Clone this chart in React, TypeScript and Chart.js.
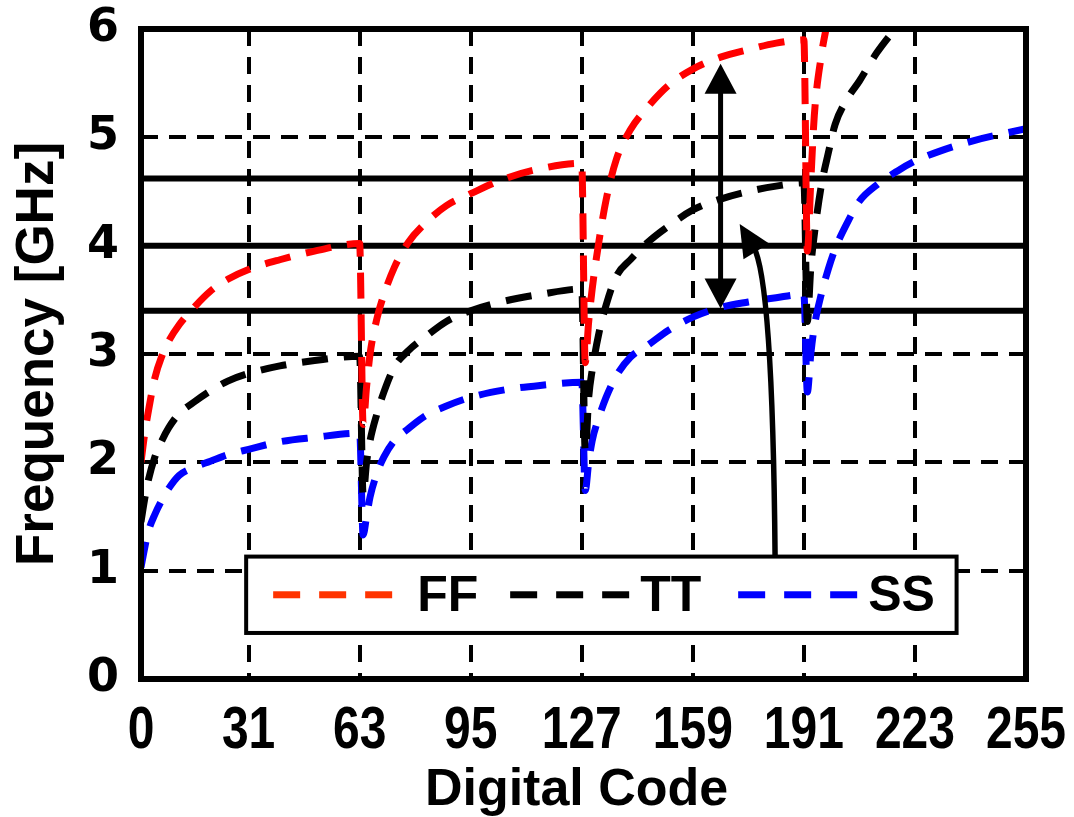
import React, { useEffect, useRef } from 'react';
import { Chart, registerables } from 'chart.js';

Chart.register(...registerables);

// Digital code samples (shared by all three corners)
const CODES = [
  0, 1, 2, 4, 6, 8, 11, 15, 20, 25, 31, 40, 50, 63,
  64, 65, 66, 68, 70, 73, 77, 82, 88, 95, 105, 115, 127,
  128, 129, 130, 132, 134, 137, 141, 146, 152, 159, 167, 175, 183, 191,
  192, 193, 194, 196, 198, 200, 203, 207, 212, 218, 223, 230, 240, 255,
];

// Frequency [GHz] per corner
const FF = [
  2.0, 2.25, 2.45, 2.78, 2.98, 3.12, 3.27, 3.42, 3.58, 3.69, 3.78, 3.87, 3.95, 4.02,
  2.35, 2.7, 3.0, 3.33, 3.55, 3.8, 4.03, 4.21, 4.37, 4.48, 4.62, 4.71, 4.76,
  2.92, 3.3, 3.6, 4.05, 4.42, 4.8, 5.07, 5.28, 5.48, 5.63, 5.74, 5.81, 5.87, 5.9,
  3.95, 4.6, 5.2, 5.75, 6.1, null, null, null, null, null, null, null, null, null,
];
const TT = [
  1.45, 1.65, 1.82, 2.05, 2.2, 2.32, 2.45, 2.55, 2.66, 2.75, 2.82, 2.89, 2.94, 2.98,
  1.7, 2.0, 2.2, 2.45, 2.65, 2.88, 3.03, 3.16, 3.3, 3.4, 3.49, 3.55, 3.6,
  2.1, 2.6, 2.85, 3.2, 3.45, 3.72, 3.87, 4.03, 4.18, 4.33, 4.43, 4.5, 4.55, 4.58,
  3.3, 3.8, 4.1, 4.55, 4.85, 5.12, 5.33, 5.52, 5.78, 6.03, null, null, null, null,
];
const SS = [
  1.03, 1.2, 1.35, 1.52, 1.65, 1.76, 1.88, 1.95, 2.01, 2.07, 2.12, 2.19, 2.23, 2.27,
  1.33, 1.5, 1.68, 1.9, 2.05, 2.2, 2.31, 2.43, 2.52, 2.6, 2.67, 2.71, 2.74,
  1.74, 2.0, 2.2, 2.42, 2.6, 2.8, 2.97, 3.08, 3.22, 3.34, 3.43, 3.48, 3.52, 3.55,
  2.65, 3.0, 3.25, 3.55, 3.78, 3.97, 4.18, 4.41, 4.56, 4.69, 4.78, 4.87, 4.97, 5.08,
];

const SERIES_NAMES = ['FF', 'TT', 'SS'];
const SERIES_COLORS = ['#ff0000', '#000000', '#0000ff'];
const LEGEND_COLORS = ['#ff3300', '#000000', '#0000ff'];

const X_TICKS = [0, 31, 63, 95, 127, 159, 191, 223, 255];
const Y_TICKS = [0, 1, 2, 3, 4, 5, 6];
const REF_LEVELS = [3.4, 4.0, 4.62];
const X_TITLE = 'Digital Code';
const Y_TITLE = 'Frequency [GHz]';

// annotation anchors in data units (code, GHz)
const DOUBLE_ARROW = { code: 167, from: 3.42, to: 5.68 };
const CURVED_ARROW = { start: [182.7, 1.13], ctrl: [182, 3.7], tip: [172.5, 4.2] };
const LEGEND_BOX = { x0: 30.3, x1: 235, y0: 0.425, y1: 1.13 };

const BOLD = '"Liberation Sans", Arial, sans-serif';

function arrowHead(ctx: CanvasRenderingContext2D, tx: number, ty: number, dx: number, dy: number, len: number, half: number) {
  const n = Math.hypot(dx, dy);
  const ux = dx / n, uy = dy / n;
  const bx = tx - ux * len, by = ty - uy * len;
  ctx.beginPath();
  ctx.moveTo(tx, ty);
  ctx.lineTo(bx - uy * half, by + ux * half);
  ctx.lineTo(bx + uy * half, by - ux * half);
  ctx.closePath();
  ctx.fill();
}

const zeroPad = (s: any) => {
  s.paddingTop = 0;
  s.paddingBottom = 0;
  s.paddingLeft = 0;
  s.paddingRight = 0;
};

const decorPlugin = {
  id: 'decor',
  beforeDatasetsDraw(chart: any) {
    const { ctx, chartArea: a, scales } = chart;
    const y = scales.y;
    ctx.save();
    ctx.strokeStyle = '#000';
    ctx.lineWidth = 6;
    ctx.setLineDash([]);
    for (const v of REF_LEVELS) {
      const py = y.getPixelForValue(v);
      ctx.beginPath();
      ctx.moveTo(a.left, py);
      ctx.lineTo(a.right, py);
      ctx.stroke();
    }
    ctx.restore();
  },
  afterDatasetsDraw(chart: any) {
    const { ctx, chartArea: a, scales } = chart;
    const x = scales.x, y = scales.y;
    ctx.save();
    ctx.setLineDash([]);
    ctx.strokeStyle = '#000';
    ctx.fillStyle = '#000';

    // double arrow
    const ax = x.getPixelForValue(DOUBLE_ARROW.code);
    const ay0 = y.getPixelForValue(DOUBLE_ARROW.from);
    const ay1 = y.getPixelForValue(DOUBLE_ARROW.to);
    const headLen = 30, headHalf = 16;
    ctx.lineWidth = 5;
    ctx.beginPath();
    ctx.moveTo(ax, ay0 - headLen + 2);
    ctx.lineTo(ax, ay1 + headLen - 2);
    ctx.stroke();
    arrowHead(ctx, ax, ay1, 0, -1, headLen, headHalf);
    arrowHead(ctx, ax, ay0, 0, 1, headLen, headHalf);

    // curved arrow
    const sx = x.getPixelForValue(CURVED_ARROW.start[0]);
    const sy = y.getPixelForValue(CURVED_ARROW.start[1]);
    const cx = x.getPixelForValue(CURVED_ARROW.ctrl[0]);
    const cy = y.getPixelForValue(CURVED_ARROW.ctrl[1]);
    const tx = x.getPixelForValue(CURVED_ARROW.tip[0]);
    const ty = y.getPixelForValue(CURVED_ARROW.tip[1]);
    const dx = tx - cx, dy = ty - cy;
    const n = Math.hypot(dx, dy);
    const ex = tx - (dx / n) * 26, ey = ty - (dy / n) * 26;
    ctx.lineWidth = 5.5;
    ctx.beginPath();
    ctx.moveTo(sx, sy);
    ctx.quadraticCurveTo(cx, cy, ex, ey);
    ctx.stroke();
    arrowHead(ctx, tx, ty, dx, dy, 32, 15);

    // legend
    const lx0 = x.getPixelForValue(LEGEND_BOX.x0);
    const lx1 = x.getPixelForValue(LEGEND_BOX.x1);
    const ly0 = y.getPixelForValue(LEGEND_BOX.y1);
    const ly1 = y.getPixelForValue(LEGEND_BOX.y0);
    ctx.fillStyle = '#fff';
    ctx.fillRect(lx0, ly0, lx1 - lx0, ly1 - ly0);
    ctx.lineWidth = 4;
    ctx.strokeStyle = '#000';
    ctx.strokeRect(lx0, ly0, lx1 - lx0, ly1 - ly0);
    const midY = (ly0 + ly1) / 2;
    const sampleStarts = [27, 264, 492];
    const textStarts = [171, 394, 622];
    ctx.font = `bold 50px ${BOLD}`;
    ctx.textBaseline = 'middle';
    ctx.textAlign = 'left';
    SERIES_NAMES.forEach((name, i) => {
      ctx.fillStyle = LEGEND_COLORS[i];
      for (let k = 0; k < 3; k++) {
        ctx.fillRect(lx0 + sampleStarts[i] + k * 46, midY - 3.5, 27, 7);
      }
      ctx.fillStyle = '#000';
      ctx.fillText(name, lx0 + textStarts[i], midY + 2);
    });

    // frame
    ctx.lineWidth = 6;
    ctx.strokeStyle = '#000';
    ctx.strokeRect(a.left, a.top, a.right - a.left, a.bottom - a.top);
    ctx.restore();
  },
  afterDraw(chart: any) {
    // condensed x tick labels, placed through the x scale
    const { ctx, chartArea: a, scales } = chart;
    const x = scales.x;
    ctx.save();
    ctx.fillStyle = '#000';
    ctx.font = `bold 60px ${BOLD}`;
    ctx.textAlign = 'center';
    ctx.textBaseline = 'alphabetic';
    for (const v of X_TICKS) {
      const px = x.getPixelForValue(v);
      ctx.save();
      ctx.translate(px, a.bottom + 69);
      ctx.scale(0.8, 1);
      ctx.fillText(String(v), 0, 0);
      ctx.restore();
    }
    // x axis title
    ctx.font = `bold 52px ${BOLD}`;
    ctx.fillText(X_TITLE, x.getPixelForValue(125.5), a.bottom + 126);
    ctx.restore();
  },
};

export default function App() {
  const ref = useRef<HTMLCanvasElement | null>(null);
  useEffect(() => {
    if (!ref.current) return;
    const series = [FF, TT, SS];
    const chart = new Chart(ref.current, {
      type: 'line',
      data: {
        datasets: series.map((vals, i) => ({
          label: SERIES_NAMES[i],
          data: CODES.map((c, j) => ({ x: c, y: vals[j] })),
          borderColor: SERIES_COLORS[i],
          borderWidth: 7,
          borderDash: [26, 16],
          borderCapStyle: 'butt',
          pointRadius: 0,
          fill: false,
          cubicInterpolationMode: 'monotone',
          spanGaps: false,
        })),
      },
      options: {
        responsive: false,
        animation: false,
        devicePixelRatio: 1,
        layout: { padding: { top: 29, right: 48, left: 0, bottom: 0 } },
        plugins: { legend: { display: false }, tooltip: { enabled: false } },
        scales: {
          x: {
            type: 'linear',
            min: 0,
            max: 255,
            afterBuildTicks: (s: any) => { s.ticks = X_TICKS.map((v) => ({ value: v })); },
            afterFit: (s: any) => { s.height = 138; zeroPad(s); },
            grid: {
              color: (c: any) => (c.tick && (c.tick.value === 0 || c.tick.value === 255) ? 'rgba(0,0,0,0)' : '#000'),
              lineWidth: 4,
              drawTicks: false,
            },
            border: { display: false, dash: [17, 11] },
            ticks: { display: false, autoSkip: false, maxRotation: 0 },
            title: { display: false },
          },
          y: {
            type: 'linear',
            min: 0,
            max: 6,
            afterBuildTicks: (s: any) => { s.ticks = Y_TICKS.map((v) => ({ value: v })); },
            afterFit: (s: any) => { s.width = 141; zeroPad(s); },
            grid: {
              color: (c: any) => (c.tick && (c.tick.value === 0 || c.tick.value === 6) ? 'rgba(0,0,0,0)' : '#000'),
              lineWidth: 4,
              drawTicks: false,
            },
            border: { display: false, dash: [17, 11] },
            ticks: {
              padding: 22,
              color: '#000',
              font: { family: '"DejaVu Sans", sans-serif', size: 46, weight: 'bold' },
              callback: (v: any) => String(v),
            },
            title: {
              display: true,
              text: Y_TITLE,
              color: '#000',
              font: { family: BOLD, size: 53, weight: 'bold' },
              padding: { top: 7, bottom: 0 },
            },
          },
        },
      },
      plugins: [decorPlugin],
    } as any);
    return () => chart.destroy();
  }, []);
  return (
    <div style={{ position: 'fixed', left: 0, top: 0, width: 1074, height: 817, background: '#fff' }}>
      <canvas ref={ref} width={1074} height={817} style={{ display: 'block' }} />
    </div>
  );
}
